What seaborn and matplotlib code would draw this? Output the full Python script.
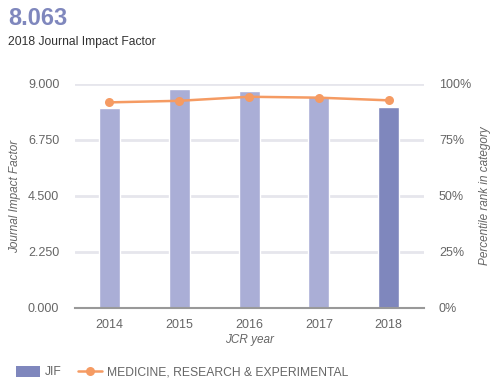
import matplotlib
matplotlib.use("Agg")
import matplotlib.pyplot as plt
import seaborn as sns
import pandas as pd
from matplotlib.patches import Patch
from matplotlib.lines import Line2D

years = ["2014", "2015", "2016", "2017", "2018"]
jif = [8.02, 8.81, 8.73, 8.51, 8.063]
percentile = [91.8, 92.5, 94.3, 93.9, 92.7]
left_ticks = [0, 2.25, 4.5, 6.75, 9.0]
right_ticks = [0, 25, 50, 75, 100]

bar_light = "#aaaed6"
bar_dark = "#7f87bd"
line_color = "#f59b63"
text_gray = "#666666"
grid_gray = "#e6e6ec"

sns.set_style("white")
plt.rcParams["font.family"] = ["Liberation Sans", "DejaVu Sans"]

df = pd.DataFrame({"year": years, "jif": jif, "pct": percentile})

fig = plt.figure(figsize=(4.99, 3.89), dpi=100)
ax = fig.add_axes([74.6 / 499, 81 / 389, 349 / 499, 224 / 389])

palette = [bar_light] * 4 + [bar_dark]
sns.barplot(data=df, x="year", y="jif", hue="year", palette=palette,
            width=0.3, legend=False, ax=ax, saturation=1, zorder=2)
ax.set_ylim(0, 9)
ax.set_xlim(-0.5, 4.5)
ax.set_yticks(left_ticks)
ax.set_yticklabels([f"{t:.3f}" for t in left_ticks])
for t in left_ticks[1:]:
    ax.axhline(t, color=grid_gray, lw=2, zorder=0)
for s in ["top", "right", "left"]:
    ax.spines[s].set_visible(False)
ax.spines["bottom"].set_color("#999999")
ax.spines["bottom"].set_linewidth(1.5)
ax.tick_params(axis="y", length=0, pad=11, labelsize=9, labelcolor=text_gray)
ax.tick_params(axis="x", length=5, width=1.5, color="#666666", pad=3,
               labelsize=9, labelcolor=text_gray)
ax.set_xlabel("JCR year", style="italic", fontsize=8.5, color=text_gray, labelpad=2)
ax.set_ylabel("Journal Impact Factor", style="italic", fontsize=8.5,
              color=text_gray, labelpad=5)

ax2 = ax.twinx()
sns.lineplot(data=df, x="year", y="pct", color=line_color, marker="o",
             markersize=6.5, markeredgewidth=0, lw=1.8, ax=ax2, sort=False)
ax2.set_ylim(0, 100)
ax2.set_yticks(right_ticks)
ax2.set_yticklabels([f"{t}%" for t in right_ticks])
for s in ["top", "right", "left", "bottom"]:
    ax2.spines[s].set_visible(False)
ax2.tick_params(axis="y", length=0, pad=11, labelsize=9, labelcolor=text_gray)
ax2.set_ylabel("Percentile rank in category", style="italic", fontsize=8.5,
               color=text_gray, labelpad=6)
ax2.set_xlabel("")

fig.text(8 / 499, 1 - 25 / 389, "8.063", fontsize=17, fontweight="bold", color=bar_dark)
fig.text(8 / 499, 1 - 45 / 389, "2018 Journal Impact Factor", fontsize=8.7, color="#333333")

handles = [Patch(facecolor=bar_dark, edgecolor="none"),
           Line2D([0], [0], color=line_color, lw=1.8, marker="o", markersize=6.5,
                  markeredgewidth=0)]
leg = fig.legend(handles, ["JIF", "MEDICINE, RESEARCH & EXPERIMENTAL"],
                 loc="center left", bbox_to_anchor=(5 / 499, 1 - 372 / 389),
                 ncol=2, frameon=False, fontsize=8.7, handlelength=2.0,
                 handleheight=1.0, columnspacing=1.35, handletextpad=0.4)
for t in leg.get_texts():
    t.set_color(text_gray)

fig.savefig("out.png", dpi=100)
